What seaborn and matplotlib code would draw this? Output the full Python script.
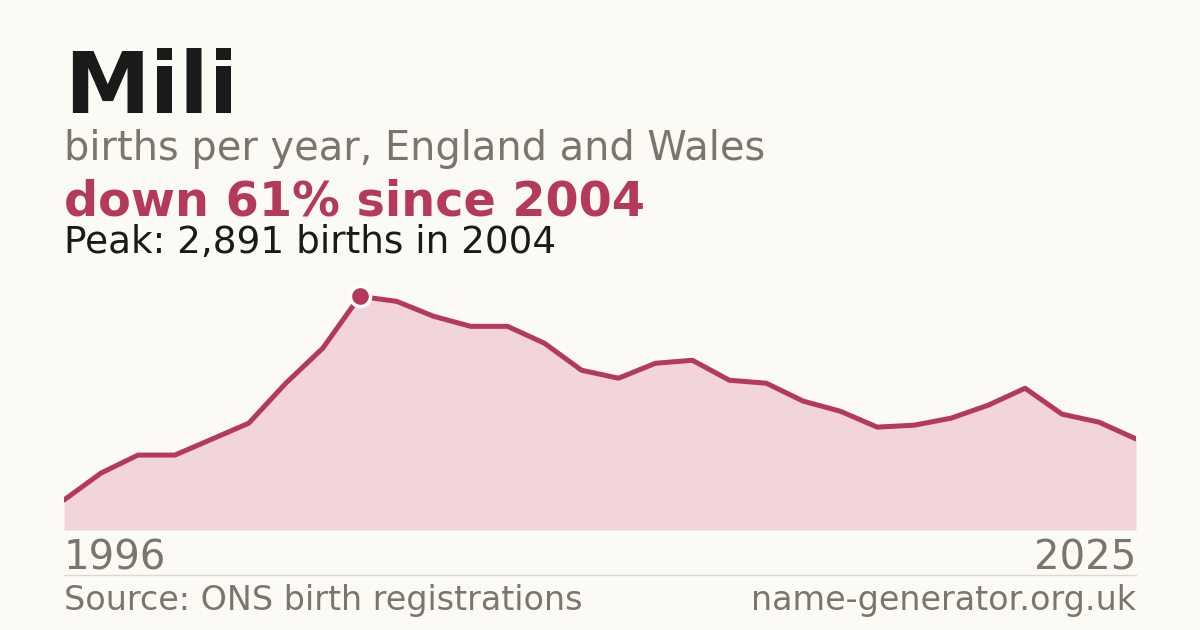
import numpy as np
import pandas as pd
import matplotlib
matplotlib.use('Agg')
import matplotlib.pyplot as plt
import seaborn as sns

# births per year for the name
years = list(range(1996, 2026))
births = [371, 704, 927, 927, 1124, 1322, 1816, 2249, 2891, 2829,
          2644, 2520, 2520, 2310, 1977, 1878, 2063, 2100, 1853, 1816,
          1594, 1470, 1273, 1297, 1384, 1544, 1754, 1433, 1334, 1127]
peak_year = 2004
peak_births = 2891

BG = '#fbfaf5'
ACCENT = '#b5395a'
FILL = '#f2d5db'
GREY = '#7a766d'
INK = '#1a1a1a'

sns.set_style('white', {'axes.facecolor': BG, 'figure.facecolor': BG})
plt.rcParams['font.family'] = ['DejaVu Sans']

df = pd.DataFrame({'year': years, 'births': births})

W, H = 1200, 630
fig = plt.figure(figsize=(12, 6.3), dpi=100)
fig.patch.set_facecolor(BG)

# chart area: x 64..1136, y 280..530 pixels
ax = fig.add_axes([64 / W, (H - 530) / H, 1072 / W, 250 / H])
ax.set_facecolor(BG)
ax.fill_between(df['year'], df['births'], 0, color=FILL, linewidth=0)
sns.lineplot(data=df, x='year', y='births', ax=ax, color=ACCENT,
             linewidth=3.6, solid_joinstyle='round')
ax.scatter([peak_year], [peak_births], s=210, color=ACCENT,
           edgecolor='white', linewidth=2.5, zorder=5, clip_on=False)
ax.set_xlim(years[0], years[-1])
ax.set_ylim(0, peak_births * 1.07)
ax.set_xticks([])
ax.set_yticks([])
ax.set_xlabel('')
ax.set_ylabel('')
sns.despine(ax=ax, left=True, bottom=True)


def px(x, y):
    return x / W, 1 - y / H


fig.text(*px(64, 113), 'Mili', fontsize=62, fontweight='bold', color=INK, va='baseline')
fig.text(*px(64, 160), 'births per year, England and Wales', fontsize=28.7, color=GREY, va='baseline')
fig.text(*px(64, 215), 'down 61% since 2004', fontsize=34.4, fontweight='bold', color=ACCENT, va='baseline')
fig.text(*px(64, 253), 'Peak: 2,891 births in 2004', fontsize=26.9, color=INK, va='baseline')

fig.text(*px(64, 570), str(years[0]), fontsize=28.9, color=GREY, va='baseline')
fig.text(*px(1136, 570), str(years[-1]), fontsize=28.9, color=GREY, va='baseline', ha='right')

fig.add_artist(plt.Line2D([64 / W, 1136 / W], [1 - 574.5 / H] * 2, color='#dcd9d0', linewidth=1))

fig.text(*px(64, 610), 'Source: ONS birth registrations', fontsize=24, color=GREY, va='baseline')
fig.text(*px(1136, 610), 'name-generator.org.uk', fontsize=24, color=GREY, va='baseline', ha='right')

fig.savefig('out.png', dpi=100, facecolor=BG)
